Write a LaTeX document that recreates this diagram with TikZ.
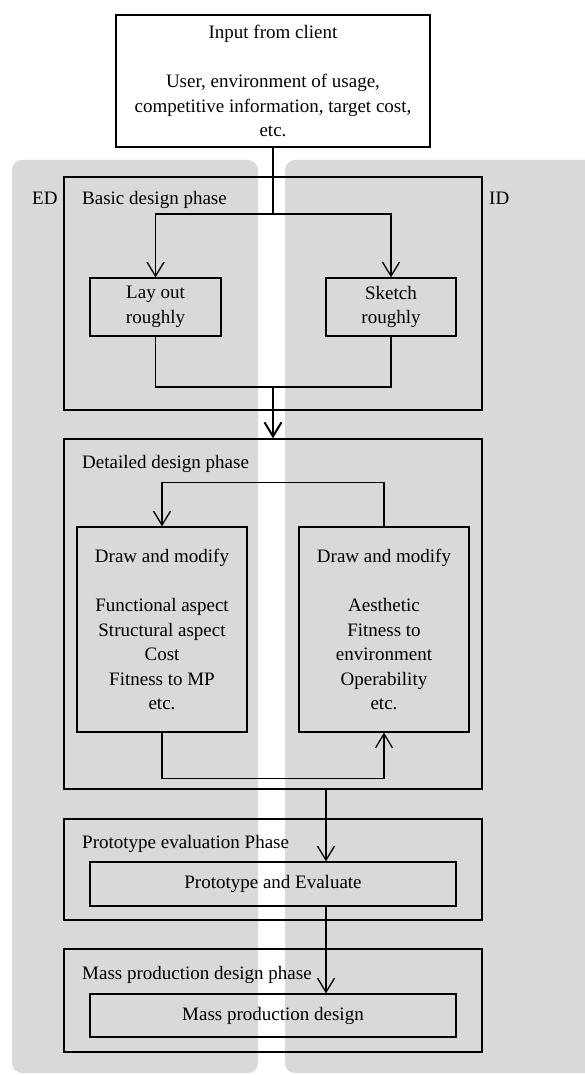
\documentclass[tikz,border=0pt]{standalone}
\usepackage{fontspec}
\setmainfont{Liberation Serif}
\usetikzlibrary{arrows.meta}

\tikzset{
  box/.style={draw,line width=1.3pt,align=center,inner sep=0pt},
  phasebox/.style={draw,line width=1.5pt,inner sep=0pt},
  lbl/.style={anchor=base west,inner sep=0pt},
  arr/.style={line width=1.3pt,-{Straight Barb[length=14pt,width=17pt]}},
}

\begin{document}
\begin{tikzpicture}[x=1pt,y=-1pt,font=\fontsize{19}{24.5}\selectfont]
\useasboundingbox (0,0) rectangle (584,1075);

\fill[gray!30,rounded corners=10pt] (12,160) rectangle (258,1073);  %ED side
\fill[gray!30,rounded corners=10pt] (285,160) rectangle (600,1073); %ID side

\node[box,fill=white,minimum width=314,minimum height=132] (input) at (273,81)
  {Input from client\\[24.5pt]User, environment of usage,\\competitive information, target cost,\\etc.};

% phases
\node[phasebox,minimum width=418,minimum height=233] (basic)    at (273,293.5) {};
\node[phasebox,minimum width=418,minimum height=350] (detailed) at (273,614) {};
\node[phasebox,minimum width=418,minimum height=101] (proto)    at (273,869.5) {};
\node[phasebox,minimum width=418,minimum height=103] (mass)     at (273,1000.5) {};

\node[lbl] (edlbl)    at (32,205)  {ED};
\node[lbl] (idlbl)    at (489,205) {ID};
\node[lbl] (basiclbl) at (82,205)  {Basic design phase};
\node[lbl] (detlbl)   at (82,468)  {Detailed design phase};
\node[lbl] (protolbl) at (82,848)  {Prototype evaluation Phase};
\node[lbl] (masslbl)  at (82,979)  {Mass production design phase};

% boxes
\node[box,minimum width=131,minimum height=58] (layout) at (155.5,307) {Lay out\\roughly};
\node[box,minimum width=130,minimum height=58] (sketch) at (391,307)   {Sketch\\roughly};
\node[box,minimum width=170,minimum height=205] (moded) at (162,629.5)
  {Draw and modify\\[24.5pt]Functional aspect\\Structural aspect\\Cost\\Fitness to MP\\etc.};
\node[box,minimum width=170,minimum height=205] (modid) at (384,629.5)
  {Draw and modify\\[24.5pt]Aesthetic\\Fitness to\\environment\\Operability\\etc.};
\node[box,minimum width=366,minimum height=44] (protoeval) at (273,884)    {Prototype and Evaluate};
\node[box,minimum width=366,minimum height=43] (massdes)   at (273,1015.5) {Mass production design};

% connectors
\coordinate (split) at (273,214);
\coordinate (join)  at (273,387);
\draw[line width=2pt] (input.south) -- (split);
\draw[arr] (split) -| (layout.north);
\draw[arr] (split) -| (sketch.north);
\draw[line width=1.3pt] (layout.south) |- (join) -| (sketch.south);
\draw[arr,line width=2pt] (join) -- (detailed.north);

\draw[arr] (modid.north) -- ++(0,-44) -| (moded.north);  %loop back
\draw[arr] (moded.south) -- ++(0,46) -| (modid.south);

\draw[arr] ([xshift=53pt]detailed.south) -- ([xshift=53pt]protoeval.north);
\draw[arr] ([xshift=53pt]protoeval.south) -- ([xshift=53pt]massdes.north);

\end{tikzpicture}
\end{document}
